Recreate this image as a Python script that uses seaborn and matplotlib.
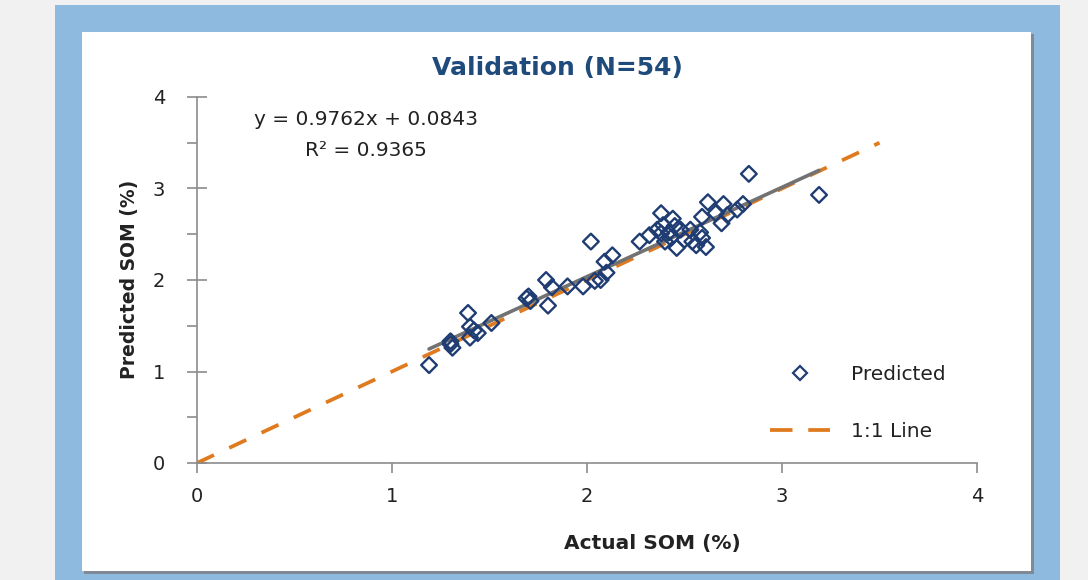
import matplotlib
matplotlib.use('Agg')
import matplotlib.pyplot as plt
from matplotlib.patches import Rectangle
from matplotlib.lines import Line2D
import seaborn as sns
import numpy as np
import pandas as pd

sns.set_theme(style='white')
plt.rcParams['font.family'] = ['DejaVu Sans']

# ── Data ──────────────────────────────────────────────────────────────────────
actual_som = [1.19, 1.30, 1.31, 1.30, 1.39, 1.40, 1.40, 1.44, 1.42, 1.51,
              1.69, 1.71, 1.70, 1.79, 1.80, 1.82, 1.90, 1.98, 2.02, 2.04,
              2.07, 2.10, 2.13, 2.09,
              2.27, 2.32, 2.36, 2.38, 2.38, 2.39, 2.40, 2.42, 2.43, 2.44,
              2.45, 2.46, 2.48, 2.50, 2.53, 2.54, 2.56, 2.58, 2.59, 2.59,
              2.61, 2.62, 2.66, 2.69, 2.70, 2.72, 2.77, 2.80, 2.83, 3.19]
predicted_som = [1.07, 1.33, 1.26, 1.30, 1.64, 1.49, 1.37, 1.42, 1.45, 1.53,
                 1.80, 1.77, 1.82, 2.00, 1.72, 1.92, 1.93, 1.93, 2.42, 1.99,
                 2.00, 2.08, 2.27, 2.20,
                 2.42, 2.49, 2.55, 2.73, 2.51, 2.60, 2.42, 2.52, 2.46, 2.67,
                 2.59, 2.35, 2.55, 2.44, 2.55, 2.42, 2.38, 2.52, 2.69, 2.46,
                 2.36, 2.85, 2.73, 2.62, 2.83, 2.71, 2.77, 2.83, 3.16, 2.93]
slope, intercept, r2 = 0.9762, 0.0843, 0.9365
one_to_one = [0, 3.5]

df = pd.DataFrame({'actual': actual_som, 'predicted': predicted_som})

ORANGE = '#e07a1f'
NAVY = '#1f3d73'
TXT = '#222222'
AXC = '#8c8c8c'
DASH = (5, 4.5)

# ── Figure with framed background ─────────────────────────────────────────────
fig = plt.figure(figsize=(10.88, 5.80), dpi=100)
fig.patch.set_facecolor('#f1f1f1')
W, H = 1088, 580
def px_rect(x0, y0, x1, y1, **kw):
    return Rectangle((x0 / W, 1 - y1 / H), (x1 - x0) / W, (y1 - y0) / H,
                     transform=fig.transFigure, **kw)
fig.patches.append(px_rect(55, 5, 1060, 590, facecolor='#8dbade', edgecolor='none', zorder=0))
fig.patches.append(px_rect(84, 34, 1034, 574, facecolor='#7f8a96', edgecolor='none', zorder=1))
fig.patches.append(px_rect(82, 32, 1031, 571, facecolor='white', edgecolor='none', zorder=2))

ax = fig.add_axes([197 / W, 1 - 463 / H, 780 / W, 366 / H])
ax.set_facecolor('none')
ax.set_zorder(3)

# 1:1 line
ax.plot(one_to_one, one_to_one, color=ORANGE, lw=2.7, dashes=DASH,
        dash_capstyle='butt', zorder=1)
# trend line
xr = np.array([min(actual_som), max(actual_som)])
ax.plot(xr, slope * xr + intercept, color='#727272', lw=2.6, zorder=2)
# points
sns.scatterplot(data=df, x='actual', y='predicted', marker='D', s=64,
                facecolor='none', edgecolor=NAVY, linewidth=1.7,
                ax=ax, zorder=3)

ax.set_xlim(0, 4)
ax.set_ylim(0, 4)
ax.set_xticks([0, 1, 2, 3, 4])
ax.set_yticks([0, 1, 2, 3, 4])
ax.set_yticks([0.5, 1.5, 2.5, 3.5], minor=True)
for s in ['top', 'right']:
    ax.spines[s].set_visible(False)
for s in ['left', 'bottom']:
    ax.spines[s].set_color(AXC)
    ax.spines[s].set_linewidth(1.2)
ax.tick_params(axis='x', which='major', direction='out', length=7, width=1.2,
               color=AXC, pad=10, labelsize=14, labelcolor=TXT, bottom=True)
ax.tick_params(axis='y', which='major', direction='inout', length=14, width=1.2,
               color=AXC, pad=16, labelsize=14, labelcolor=TXT, left=True)
ax.tick_params(axis='y', which='minor', direction='out', length=7, width=1.2,
               color=AXC, left=True)
ax.grid(False)

ax.set_xlabel('Actual SOM (%)', fontsize=14.5, fontweight='bold', color=TXT)
ax.xaxis.set_label_coords((652 - 197) / 780, -(543 - 463) / 366)
ax.xaxis.label.set_va('center')
ax.set_ylabel('Predicted SOM (%)', fontsize=13.5, fontweight='bold', color=TXT)
ax.yaxis.set_label_coords(-(197 - 130) / 780, (463 - 279) / 366)
ax.yaxis.label.set_va('center')

fig.text(557 / W, 1 - 68 / H, 'Validation (N=54)', fontsize=18, fontweight='bold',
         color='#1f4a7c', ha='center', va='center')

ax.text(0.867, 3.75, f'y = {slope}x + {intercept}', fontsize=14.5, color=TXT,
        ha='center', va='center')
ax.text(0.867, 3.41, f'R² = {r2}', fontsize=14.5, color=TXT,
        ha='center', va='center')

handles = [Line2D([], [], marker='D', ls='none', markersize=7,
                  markerfacecolor='none', markeredgecolor=NAVY, markeredgewidth=1.6),
           Line2D([], [], color=ORANGE, lw=2.7, dashes=(6, 4.2), dash_capstyle='butt')]
ax.legend(handles, ['Predicted', '1:1 Line'], frameon=False, fontsize=14.5,
          loc='center left', bbox_to_anchor=((770 - 197) / 780, (463 - 403) / 366),
          borderpad=0, borderaxespad=0, labelspacing=1.9,
          handlelength=3.0, handletextpad=1.0, labelcolor=TXT)

fig.savefig('out.png', dpi=100, facecolor=fig.get_facecolor())
